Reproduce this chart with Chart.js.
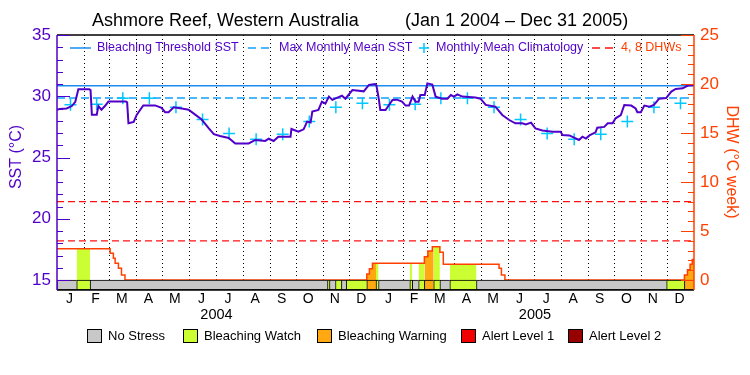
<!DOCTYPE html>
<html><head><meta charset="utf-8">
<script src="https://cdn.jsdelivr.net/npm/chart.js@4.4.0/dist/chart.umd.min.js"></script>
<style>html,body{margin:0;padding:0;background:#fff}canvas{display:block}</style>
</head><body>
<canvas id="c" width="750" height="375"></canvas>
<script>
// ---------- DATA ----------
const titleLeft = 'Ashmore Reef, Western Australia';
const titleRight = '(Jan 1 2004 \u2013 Dec 31 2005)';
const monthLabels = ['J','F','M','A','M','J','J','A','S','O','N','D','J','F','M','A','M','J','J','A','S','O','N','D'];
const monthStartDays = [0,31,60,91,121,152,182,213,244,274,305,335,366,397,425,456,486,517,547,578,609,639,670,700,731];
const yearLabels = ['2004','2005'];
const yearStartDays = [0,366,731];
const sstTicks = [15,20,25,30,35];
const dhwTicks = [0,5,10,15,20,25];

const sstDays = [0,3,11,17,21,24.5,37,38.5,40,45.6,47.5,51,55,59,79,80.5,82,88,91.6,99,112.6,120,124,128,134,143,151,158.6,166,174,180,187,197,204.6,220,227.6,239,243,248.6,254,268,269,277,283,287,291,293,300,304,308,312,316,327,331,339,352,358,365,366.5,369,371,377,381,385,390,396,400,404,408,411.5,415,417,422,425,430.7,434.5,442,448,452,455.5,459.5,465,480,486,492,503,511,519,526,534,538,544,549,557,568.6,578,580,588,599,603,607,611,618,620,628,632,637.6,641,647,651,659,664,666,670,674,680,685,691,699,705,710,718,724,731];
const sstValues = [28.9,28.95,29.0,29.2,29.55,30.57,30.57,30.5,28.5,28.5,29.2,28.9,29.2,29.57,29.57,29.5,27.8,27.9,28.5,29.25,29.25,29.05,28.7,28.7,29.1,29.0,28.9,28.5,28.1,27.4,26.9,26.75,26.6,26.15,26.15,26.43,26.35,26.53,26.35,26.7,26.7,27.33,27.1,27.3,27.93,27.85,28.75,28.88,29.56,29.4,29.97,29.7,30.05,29.8,30.5,30.4,30.92,31.0,30.9,29.9,28.88,28.88,29.29,29.7,29.72,29.56,29.24,29.24,29.97,29.56,29.56,30.1,30.1,31.05,30.95,29.97,29.8,29.8,30.1,29.97,30.15,29.97,29.9,29.8,29.29,29.15,28.47,28.06,27.79,27.79,27.7,27.85,27.38,27.2,27.1,27.1,26.84,26.8,26.43,26.7,26.55,26.8,27.05,27.43,27.5,27.79,27.79,28.2,28.47,29.29,29.24,29.0,28.7,28.7,29.24,29.15,29.29,29.8,29.85,30.38,30.6,30.65,30.87,30.9];

const climMonthlyValues = [29.3,29.35,29.83,29.83,29.1,28.1,26.95,26.5,26.9,27.93,29.1,29.42];
const mmmValue = 29.85;
const thresholdValue = 30.85;
const dhwLevels = [4,8];

const dhwDays = [0,61,64.7,66.7,70.5,74,78,355.5,358.5,362,421.6,425.6,430.7,439.4,443.3,507.3,510,514,720,723.5,726.5,729,731];
const dhwValues = [3.2,2.72,2.21,1.7,1.19,0.51,0,0.6,1.15,1.7,2.38,2.96,3.4,2.83,1.6,1.19,0.51,0,0.5,1.05,1.6,2.1,2.1];

const stressStart = [0,22.6,38,310.4,312.7,319.6,326.4,331.9,355.5,366.1,369,404.9,407.7,415,421.6,432.3,439.4,450.8,481.4,699.6,720];
const stressEnd   = [22.6,38,310.4,312.7,319.6,326.4,331.9,355.5,366.1,369,404.9,407.7,415,421.6,432.3,439.4,450.8,481.4,699.6,720,731];
const stressLevel = [0,1,0,1,0,1,0,1,2,1,0,1,0,1,2,1,0,1,0,1,2];
const stressNames = ['No Stress','Bleaching Watch','Bleaching Warning','Alert Level 1','Alert Level 2'];

// ---------- STYLE ----------
const stressColors = ['#c8c8c8','#ccff33','#ffa812','#f00000','#960000'];
const PURPLE = '#5000c8', ORANGE = '#ff4000', THR = '#1a8cf0', MMM = '#10a0ff', CLIM = '#00c8ff', DHWRED = '#ff1010';
const FONT = '"Liberation Sans", Arial, sans-serif';
const SST_MIN = 15 - 10/12.25, DHW_MIN = -10/9.8;

// ---------- BUILD ----------
const dhwAt = d => { let v = dhwValues[0]; for (let i=0;i<dhwDays.length;i++){ if (dhwDays[i] <= d) v = dhwValues[i]; } return v; };
function fillPoints(level){
  const pts = [];
  stressLevel.forEach((l,i)=>{
    if (l !== level) return;
    const s = stressStart[i], e = stressEnd[i];
    pts.push({x:s, y:dhwAt(s)});
    dhwDays.forEach((d,k)=>{ if (d>s && d<e) pts.push({x:d, y:dhwValues[k]}); });
    pts.push({x:e, y:dhwAt(e-0.01)});
    pts.push({x:e, y:null});
  });
  return pts;
}
const climDays = [];
const climValues = [];
for (let m=0;m<24;m++){ climDays.push((monthStartDays[m]+monthStartDays[m+1])/2); climValues.push(climMonthlyValues[m%12]); }
const xMin = monthStartDays[0], xMax = monthStartDays[monthStartDays.length-1];
const flat = v => [{x:xMin,y:v},{x:xMax,y:v}];
const barCenter = (SST_MIN + 15)/2;

const datasets = [
  {type:'bar', indexAxis:'y', xAxisID:'x', yAxisID:'y', order:0,
   data: stressStart.map((s,i)=>({x:[s, stressEnd[i]], y: barCenter})),
   backgroundColor: stressLevel.map(l=>stressColors[l]), borderColor:'#000',
   borderWidth:{left:1,top:1,bottom:1,right:0}, borderSkipped:false, barThickness:10},
  {type:'line', data: sstDays.map((d,i)=>({x:d,y:sstValues[i]})), yAxisID:'y', borderColor:PURPLE, borderWidth:2, pointRadius:0, order:1},
  {type:'line', data: climDays.map((d,i)=>({x:d,y:climValues[i]})), yAxisID:'y', showLine:false, pointStyle:'cross', pointRadius:6, borderColor:CLIM, borderWidth:1.5, order:1},
  {type:'line', data: flat(thresholdValue), yAxisID:'y', borderColor:THR, borderWidth:1.5, pointRadius:0, order:3},
  {type:'line', data: flat(mmmValue), yAxisID:'y', borderColor:MMM, borderWidth:1.5, borderDash:[8,4], pointRadius:0, order:3},
  ...dhwLevels.map(v=>({type:'line', data: flat(v), yAxisID:'y2', borderColor:DHWRED, borderWidth:1.2, borderDash:[7,4], pointRadius:0, order:3})),
  {type:'line', data: dhwDays.map((d,i)=>({x:d,y:dhwValues[i]})), yAxisID:'y2', stepped:'before', borderColor:ORANGE, borderWidth:1.5, pointRadius:0, order:2},
  ...[1,2,3,4].map(l=>({type:'line', data: fillPoints(l), yAxisID:'y2', stepped:'before', spanGaps:false, borderWidth:0, borderColor:'rgba(0,0,0,0)', backgroundColor:stressColors[l], fill:'origin', pointRadius:0, order:5}))
];

const decor = {
  id:'decor',
  beforeDraw(chart){ const c=chart.ctx; c.save(); c.fillStyle='#fff'; c.fillRect(0,0,chart.width,chart.height); c.restore(); },
  beforeDatasetsDraw(chart){
    const {ctx, chartArea:a, scales:{x,y}} = chart;
    const yb = y.getPixelForValue(15);
    ctx.save(); ctx.strokeStyle='#000'; ctx.lineWidth=1; ctx.setLineDash([1,3]);
    monthStartDays.slice(1,-1).forEach(d=>{ const px=Math.round(x.getPixelForValue(d))+0.5; ctx.beginPath(); ctx.moveTo(px,a.top); ctx.lineTo(px,yb); ctx.stroke(); });
    ctx.restore();
  },
  afterDraw(chart){
    const {ctx, chartArea:a, scales:{x,y,y2}} = chart;
    ctx.save();
    // frame
    ctx.strokeStyle='#000'; ctx.lineWidth=1.5;
    ctx.beginPath(); ctx.moveTo(a.left,a.top); ctx.lineTo(a.right,a.top); ctx.stroke();
    ctx.beginPath(); ctx.moveTo(a.left,a.bottom); ctx.lineTo(a.right,a.bottom); ctx.stroke();
    // left axis
    ctx.strokeStyle=PURPLE; ctx.lineWidth=1.5;
    ctx.beginPath(); ctx.moveTo(a.left,a.top); ctx.lineTo(a.left,a.bottom); ctx.stroke();
    for (let v=sstTicks[0]; v<=sstTicks[sstTicks.length-1]; v++){
      const py=Math.round(y.getPixelForValue(v))+0.5, len = sstTicks.includes(v)?13:6;
      ctx.lineWidth=1; ctx.beginPath(); ctx.moveTo(a.left,py); ctx.lineTo(a.left+len,py); ctx.stroke();
    }
    ctx.fillStyle=PURPLE; ctx.font='17px '+FONT; ctx.textAlign='right'; ctx.textBaseline='middle';
    sstTicks.forEach(v=>ctx.fillText(String(v), a.left-6, y.getPixelForValue(v)));
    // right axis
    ctx.strokeStyle=ORANGE; ctx.lineWidth=1.5;
    ctx.beginPath(); ctx.moveTo(a.right,a.top); ctx.lineTo(a.right,a.bottom); ctx.stroke();
    for (let v=dhwTicks[0]; v<=dhwTicks[dhwTicks.length-1]; v++){
      const py=Math.round(y2.getPixelForValue(v))+0.5, len = dhwTicks.includes(v)?13:6;
      ctx.lineWidth=1; ctx.beginPath(); ctx.moveTo(a.right-len,py); ctx.lineTo(a.right,py); ctx.stroke();
    }
    ctx.fillStyle=ORANGE; ctx.textAlign='left';
    dhwTicks.forEach(v=>ctx.fillText(String(v), a.right+6, y2.getPixelForValue(v)));
    // axis titles
    ctx.font='16px '+FONT; ctx.textAlign='center';
    ctx.save(); ctx.translate(17,157); ctx.rotate(-Math.PI/2); ctx.fillStyle=PURPLE; ctx.fillText('SST (\u00B0C)',0,0); ctx.restore();
    ctx.save(); ctx.translate(731,162); ctx.rotate(Math.PI/2); ctx.fillStyle=ORANGE; ctx.fillText('DHW (\u00B0C week)',0,0); ctx.restore();
    // month & year labels
    ctx.fillStyle='#000'; ctx.font='14px '+FONT; ctx.textAlign='center';
    monthLabels.forEach((m,i)=>ctx.fillText(m, x.getPixelForValue((monthStartDays[i]+monthStartDays[i+1])/2)-1, 299));
    ctx.font='14.5px '+FONT;
    yearLabels.forEach((t,i)=>ctx.fillText(t, x.getPixelForValue((yearStartDays[i]+yearStartDays[i+1])/2), 315));
    // title
    ctx.font='18px '+FONT; ctx.textAlign='left';
    ctx.fillText(titleLeft, 92, 21); ctx.fillText(titleRight, 405, 21);
    // top legend
    const ly=48; ctx.font='12.5px '+FONT;
    ctx.strokeStyle=THR; ctx.lineWidth=1.5; ctx.beginPath(); ctx.moveTo(70,ly); ctx.lineTo(91,ly); ctx.stroke();
    ctx.fillStyle=PURPLE; ctx.fillText('Bleaching Threshold SST', 97, ly);
    ctx.strokeStyle=MMM; ctx.setLineDash([8,5]); ctx.beginPath(); ctx.moveTo(248,ly); ctx.lineTo(272,ly); ctx.stroke(); ctx.setLineDash([]);
    ctx.fillText('Max Monthly Mean SST', 279, ly);
    ctx.strokeStyle=CLIM; ctx.beginPath(); ctx.moveTo(419,ly); ctx.lineTo(429,ly); ctx.moveTo(424,ly-5); ctx.lineTo(424,ly+5); ctx.stroke();
    ctx.fillText('Monthly Mean Climatology', 436, ly);
    ctx.strokeStyle=DHWRED; ctx.setLineDash([8,5]); ctx.beginPath(); ctx.moveTo(592,ly); ctx.lineTo(615,ly); ctx.stroke(); ctx.setLineDash([]);
    ctx.fillStyle=ORANGE; ctx.fillText(dhwLevels.join(', ')+' DHWs', 621, ly);
    // bottom legend
    const bx=[87,183,317,461,568], by=336;
    ctx.font='13px '+FONT; ctx.lineWidth=1;
    stressNames.forEach((n,i)=>{
      ctx.fillStyle=stressColors[i]; ctx.fillRect(bx[i]+0.5,by-6.5,14,13);
      ctx.strokeStyle='#000'; ctx.strokeRect(bx[i]+0.5,by-6.5,14,13);
      ctx.fillStyle='#000'; ctx.fillText(n, bx[i]+21, by);
    });
    ctx.restore();
  }
};

new Chart(document.getElementById('c'), {
  type:'line',
  data:{datasets},
  options:{
    responsive:false, animation:false,
    layout:{padding:{left:57,right:56,top:35,bottom:85}},
    plugins:{legend:{display:false}, tooltip:{enabled:false}, title:{display:false}},
    scales:{
      x:{type:'linear', min:xMin, max:xMax, display:false, offset:false},
      y:{type:'linear', min:SST_MIN, max:35, display:false, offset:false, grid:{offset:false}},
      y2:{type:'linear', position:'right', min:DHW_MIN, max:25, display:false, offset:false}
    }
  },
  plugins:[decor]
});
</script>
</body></html>
